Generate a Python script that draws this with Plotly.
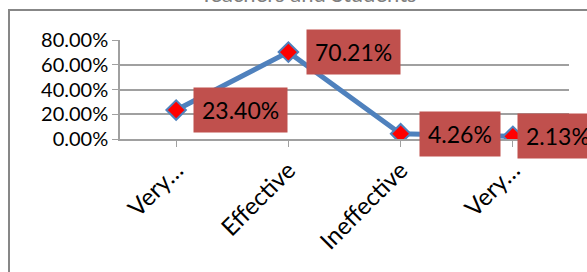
import plotly.graph_objects as go

categories = ["Very…", "Effective", "Ineffective", "Very…"]
values = [0.2340, 0.7021, 0.0426, 0.0213]
labels = ["23.40%", "70.21%", "4.26%", "2.13%"]
y_ticks = [0, 0.2, 0.4, 0.6, 0.8]
y_tick_text = ["0.00%", "20.00%", "40.00%", "60.00%", "80.00%"]
title_text = "Teachers and Students"

FONT = "Lato, Open Sans, sans-serif"
label_shifts = [17, 18, 18, 4]

fig = go.Figure()
fig.add_trace(go.Scatter(
    x=list(range(len(categories))), y=values, mode="lines+markers",
    line=dict(color="#4F81BD", width=5),
    marker=dict(symbol="diamond", size=15, color="#FF0000",
                line=dict(color="#4F81BD", width=2)),
    hoverinfo="skip",
))

for i, (v, t) in enumerate(zip(values, labels)):
    fig.add_annotation(
        x=i, y=v, xref="x", yref="y", text=t, showarrow=False,
        xanchor="left", yanchor="middle", xshift=label_shifts[i],
        bgcolor="#C0504D", borderpad=8,
        font=dict(family=FONT, size=23, color="#000000"),
    )

fig.add_annotation(
    x=0.42, y=1.315, xref="paper", yref="paper", text=title_text,
    showarrow=False, xanchor="center", yanchor="bottom",
    font=dict(family=FONT, size=22, color="#7F7F7F"),
)

fig.add_shape(type="rect", xref="paper", yref="paper",
              x0=-0.2472, x1=1.06, y0=-1.5, y1=1.303,
              line=dict(color="#878787", width=2), fillcolor="rgba(0,0,0,0)",
              layer="below")

fig.update_layout(
    width=587, height=272,
    margin=dict(l=120, r=18, t=40, b=133),
    paper_bgcolor="white", plot_bgcolor="white",
    showlegend=False,
    xaxis=dict(
        tickmode="array", tickvals=list(range(len(categories))), ticktext=categories,
        range=[-0.5, 3.5], tickangle=-45, automargin=False,
        showgrid=False, showline=True, linecolor="#A0A0A0", linewidth=1.5,
        ticks="outside", tickson="boundaries", ticklen=6, tickcolor="#A0A0A0",
        tickfont=dict(family=FONT, size=24, color="#000000"),
        zeroline=False,
    ),
    yaxis=dict(
        range=[0, 0.8], tickvals=y_ticks, ticktext=y_tick_text, automargin=False,
        showgrid=True, gridcolor="#A0A0A0", gridwidth=1.5,
        showline=True, linecolor="#A0A0A0", linewidth=1.5,
        ticks="outside", ticklen=6, tickcolor="#A0A0A0",
        tickfont=dict(family=FONT, size=20, color="#000000"),
        zeroline=False,
    ),
)

fig.write_html("out.html", config={"displayModeBar": False},
               post_script="document.body.style.margin='0';")
